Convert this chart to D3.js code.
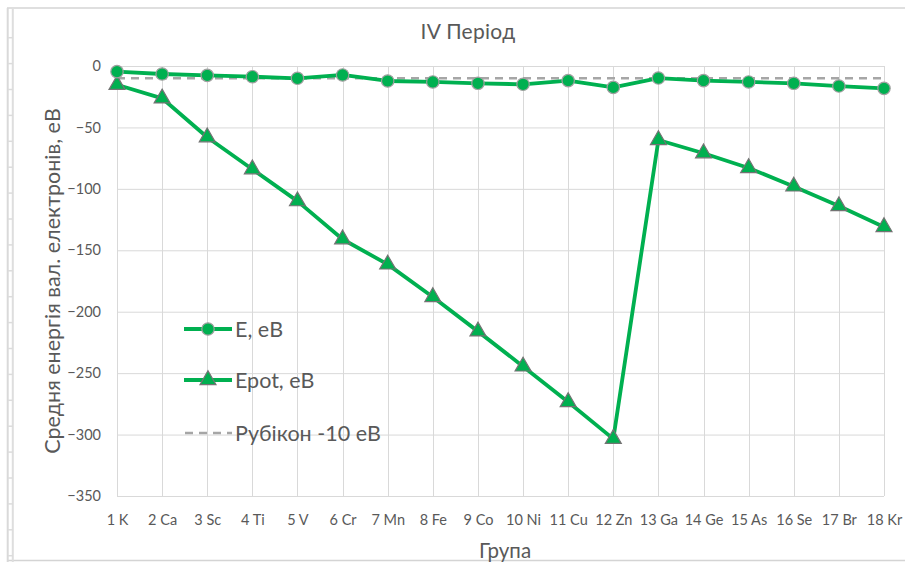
<!DOCTYPE html>
<html>
<head>
<meta charset="utf-8">
<script src="https://cdn.jsdelivr.net/npm/d3@7"></script>
<style>
  html, body { margin: 0; padding: 0; background: #fff; }
  svg { display: block; }
  text { font-family: Lato, "Open Sans", sans-serif; fill: #595959; }
</style>
</head>
<body>
<svg id="chart" width="905" height="562"></svg>
<script>
// Groups of period IV (category labels)
const groups = ["1 K", "2 Ca", "3 Sc", "4 Ti", "5 V", "6 Cr", "7 Mn", "8 Fe", "9 Co",
  "10 Ni", "11 Cu", "12 Zn", "13 Ga", "14 Ge", "15 As", "16 Se", "17 Br", "18 Kr"];
// Mean energy of valence electrons, eV
const energyE = [-4.6, -6.5, -7.6, -8.7, -10.0, -7.3, -12.2, -13.0, -14.1,
  -14.9, -11.9, -17.4, -9.8, -11.9, -13.0, -14.1, -16.3, -18.2];
// Mean potential energy of valence electrons, eV
const energyPot = [-15.3, -26.3, -58.0, -84.0, -110.0, -141.0, -161.5, -188.0, -216.0,
  -244.5, -273.5, -303.5, -60.2, -71.0, -83.0, -98.0, -114.0, -131.0];
// Threshold line
const rubicon = groups.map(() => -10);
const yTicks = [0, -50, -100, -150, -200, -250, -300, -350];
const seriesNames = ["E, еВ", "Epot, еВ", "Рубікон -10 еВ"];

const green = "#00B050";
const grid = "#d9d9d9";

const svg = d3.select("#chart");

// Sheet-like frame around the chart object
const frame = svg.append("g");
frame.append("line").attr("x1", 7).attr("x2", 905).attr("y1", 8).attr("y2", 8)
  .attr("stroke", "#d4d4d4").attr("stroke-width", 1.5);
frame.append("line").attr("x1", 7).attr("x2", 905).attr("y1", 560.5).attr("y2", 560.5)
  .attr("stroke", "#d4d4d4").attr("stroke-width", 1.5);
frame.append("line").attr("x1", 7.7).attr("x2", 7.7).attr("y1", 8).attr("y2", 562)
  .attr("stroke", "#d9d9d9").attr("stroke-width", 2);
frame.append("line").attr("x1", 12.8).attr("x2", 12.8).attr("y1", 9).attr("y2", 562)
  .attr("stroke", "#dedede").attr("stroke-width", 2);
d3.range(37.7, 560, 25.9).forEach(y => {
  frame.append("line").attr("x1", 8).attr("x2", 13).attr("y1", y).attr("y2", y)
    .attr("stroke", "#dcdcdc").attr("stroke-width", 1.5);
});

const x = d3.scalePoint().domain(groups).range([117, 884]);
const y = d3.scaleLinear().domain([-350, 0]).range([496, 66]);

// Gridlines
const gGrid = svg.append("g");
gGrid.selectAll("line.h").data(yTicks).join("line")
  .attr("x1", x.range()[0]).attr("x2", x.range()[1])
  .attr("y1", d => y(d) + 0.5).attr("y2", d => y(d) + 0.5)
  .attr("stroke", grid).attr("stroke-width", 1);
gGrid.selectAll("line.v").data(groups).join("line")
  .attr("x1", d => Math.round(x(d)) + 0.5).attr("x2", d => Math.round(x(d)) + 0.5)
  .attr("y1", y(0)).attr("y2", y(-350))
  .attr("stroke", grid).attr("stroke-width", 1);

// Axes (labels only)
const yAxis = svg.append("g").attr("transform", `translate(${x.range()[0]},0)`)
  .call(d3.axisLeft(y).tickValues(yTicks).tickSize(0).tickPadding(16).tickFormat(d3.format("d")));
yAxis.select(".domain").remove();
yAxis.selectAll("text").attr("font-size", 14.5).style("font-family", "Lato, sans-serif").attr("fill", "#595959");

const xAxis = svg.append("g").attr("transform", `translate(0,${y(-350)})`)
  .call(d3.axisBottom(x).tickSize(0).tickPadding(19));
xAxis.select(".domain").remove();
xAxis.selectAll("text").attr("font-size", 14.5).style("font-family", "Lato, sans-serif").attr("fill", "#595959");

// Threshold line
svg.append("path").datum(rubicon)
  .attr("d", d3.line().x((d, i) => x(groups[i])).y(d => y(d)))
  .attr("fill", "none").attr("stroke", "#a6a6a6").attr("stroke-width", 2.5)
  .attr("stroke-dasharray", "8,6");

const line = d3.line().x((d, i) => x(groups[i])).y(d => y(d));

// Epot series
svg.append("path").datum(energyPot).attr("d", line)
  .attr("fill", "none").attr("stroke", green).attr("stroke-width", 3.8)
  .attr("stroke-linejoin", "round");
const tri = d3.symbol().type(d3.symbolTriangle).size(110);
svg.selectAll("path.tri").data(energyPot).join("path").attr("class", "tri")
  .attr("d", tri)
  .attr("transform", (d, i) => `translate(${x(groups[i])},${y(d)})`)
  .attr("fill", green).attr("stroke", "#737373").attr("stroke-width", 1.2);

// E series
svg.append("path").datum(energyE).attr("d", line)
  .attr("fill", "none").attr("stroke", green).attr("stroke-width", 3.8)
  .attr("stroke-linejoin", "round");
svg.selectAll("circle.e").data(energyE).join("circle").attr("class", "e")
  .attr("cx", (d, i) => x(groups[i])).attr("cy", d => y(d)).attr("r", 6.2)
  .attr("fill", green).attr("stroke", "#a0a0a0").attr("stroke-width", 1.2);

// Legend
const legY = [329, 380, 433];
const lg = svg.append("g");
seriesNames.forEach((name, i) => {
  const g = lg.append("g").attr("transform", `translate(0,${legY[i]})`);
  if (i < 2) {
    g.append("line").attr("x1", 184).attr("x2", 232).attr("y1", 0).attr("y2", 0)
      .attr("stroke", green).attr("stroke-width", 3.8);
    if (i === 0) {
      g.append("circle").attr("cx", 208).attr("cy", 0).attr("r", 6.2)
        .attr("fill", green).attr("stroke", "#a0a0a0").attr("stroke-width", 1.2);
    } else {
      g.append("path").attr("d", tri).attr("transform", "translate(208,0)")
        .attr("fill", green).attr("stroke", "#737373").attr("stroke-width", 1.2);
    }
  } else {
    g.append("line").attr("x1", 185).attr("x2", 232).attr("y1", 0).attr("y2", 0)
      .attr("stroke", "#a6a6a6").attr("stroke-width", 2.5).attr("stroke-dasharray", "8,6");
  }
  g.append("text").attr("x", 235).attr("y", 0).attr("dy", "0.36em")
    .attr("font-size", 21.5).text(name);
});

// Titles
svg.append("text").attr("x", 468).attr("y", 39).attr("text-anchor", "middle")
  .attr("font-size", 21).attr("letter-spacing", 0.3).text("IV Період");
svg.append("text").attr("x", 505).attr("y", 558).attr("text-anchor", "middle")
  .attr("font-size", 20.5).text("Група");
svg.append("text")
  .attr("transform", "translate(60,281) rotate(-90)")
  .attr("text-anchor", "middle").attr("font-size", 21.5)
  .text("Средня енергія вал. електронів, еВ");
</script>
</body>
</html>
